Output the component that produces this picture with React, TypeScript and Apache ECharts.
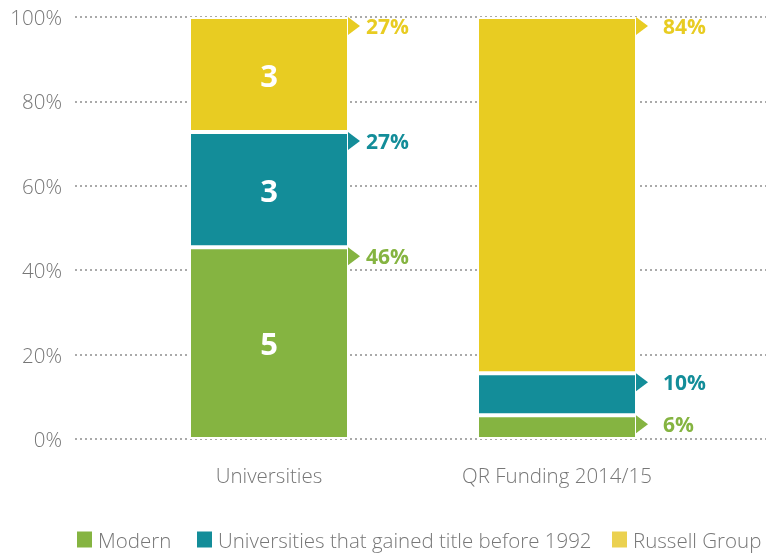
import React, { useEffect, useRef } from "react";
import * as echarts from "echarts";

const categories = ["Universities", "QR Funding 2014/15"];
const seriesNames = ["Modern", "Universities that gained title before 1992", "Russell Group"];
const universityCounts = [5, 3, 3];
const universityPctLabels = [46, 27, 27];
const qrFundingShare = [5.6, 10.0, 84.4];
const qrPctLabels = [6, 10, 84];
const yTickMax = 100;
const yTickStep = 20;

const barColors = ["#85b441", "#138d99", "#e8cc22"];
const legendColors = ["#85b441", "#138d99", "#ebd150"];
const legendLeft = [75, 195, 610];
const FONT = "'Open Sans', 'Noto Sans', sans-serif";
const BAR_WIDTH = 160;
const labelGap = [6, 15];

export default function App() {
  const ref = useRef<HTMLDivElement>(null);
  useEffect(() => {
    if (!ref.current) return;
    const chart = echarts.init(ref.current, null, { renderer: "svg" });
    const total = universityCounts.reduce((a, b) => a + b, 0);
    const uniShare = universityCounts.map((c) => (c / total) * 100);
    const shares = [uniShare, qrFundingShare];
    const pctLabels = [universityPctLabels, qrPctLabels];

    const barSeries: any[] = seriesNames.map((name, i) => ({
      name,
      type: "bar",
      stack: "total",
      xAxisIndex: 1,
      yAxisIndex: 1,
      barWidth: BAR_WIDTH,
      itemStyle: { color: barColors[i], borderColor: "#fff", borderWidth: 2 },
      data: categories.map((_, ci) => ({
        value: shares[ci][i],
        label: {
          show: ci === 0,
          position: "inside",
          formatter: String(universityCounts[i]),
          color: "#fff",
          fontSize: 31,
          fontWeight: "bold",
          fontFamily: FONT,
        },
      })),
    }));

    const markerSeries: any[] = seriesNames.map((name, i) => ({
      name: "marker-" + i,
      type: "custom",
      xAxisIndex: 1,
      yAxisIndex: 1,
      z: 5,
      data: categories.map((_, ci) => {
        let top = 0;
        for (let k = 0; k <= i; k++) top += shares[ci][k];
        return [ci, top, pctLabels[ci][i]];
      }),
      renderItem: (params: any, api: any) => {
        const ci = api.value(0);
        const c = api.coord([ci, api.value(1)]);
        const x = c[0] + BAR_WIDTH / 2 - 1;
        const y = c[1];
        return {
          type: "group",
          children: [
            {
              type: "polygon",
              shape: { points: [[x, y], [x + 12, y + 9], [x, y + 18]] },
              style: { fill: barColors[i] },
            },
            {
              type: "text",
              x: x + 12 + labelGap[ci],
              y: y + 9,
              style: {
                text: api.value(2) + "%",
                fill: barColors[i],
                fontSize: 21,
                fontWeight: "bold",
                fontFamily: FONT,
                verticalAlign: "middle",
                align: "left",
              },
            },
          ],
        };
      },
    }));

    const axisText = { fontSize: 20.5, color: "#777", fontFamily: FONT, fontWeight: 300 };

    chart.setOption({
      animation: false,
      grid: [
        { left: 75, right: 0, top: 17, bottom: 117 },
        { left: 125, right: 65, top: 17, bottom: 117 },
      ],
      legend: seriesNames.map((n, i) => ({
        left: legendLeft[i],
        top: 529,
        padding: 0,
        icon: "rect",
        itemWidth: 17,
        itemHeight: 18,
        textStyle: { ...axisText },
        data: [{ name: n, itemStyle: { color: legendColors[i] } }],
      })),
      xAxis: [
        { type: "value", gridIndex: 0, show: false, min: 0, max: 1 },
        {
          type: "category",
          gridIndex: 1,
          data: categories,
          axisLine: { show: false },
          axisTick: { show: false },
          axisLabel: { margin: 25, ...axisText },
        },
      ],
      yAxis: [
        {
          type: "value",
          gridIndex: 0,
          min: 0,
          max: yTickMax,
          interval: yTickStep,
          axisLine: { show: false },
          axisTick: { show: false },
          axisLabel: { formatter: "{value}%", margin: 13, ...axisText },
          splitLine: { lineStyle: { color: "#aaa", width: 2, type: [2, 3] } },
        },
        { type: "value", gridIndex: 1, min: 0, max: yTickMax, show: false },
      ],
      series: [...barSeries, ...markerSeries],
    });
    return () => chart.dispose();
  }, []);
  return <div ref={ref} style={{ position: "fixed", left: 0, top: 0, width: 766, height: 556 }} />;
}
